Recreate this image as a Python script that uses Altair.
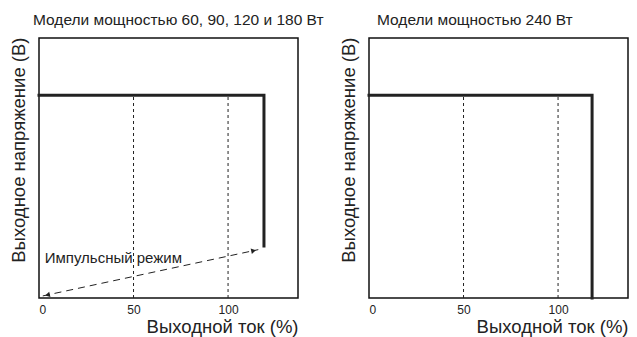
import altair as alt
import pandas as pd

FONT = "Liberation Sans"
INK = "#222222"

x_ticks = [0, 50, 100]
x_max = 137
y_max = 100

left_title = "Модели мощностью 60, 90, 120 и 180 Вт"
right_title = "Модели мощностью 240 Вт"
x_title = "Выходной ток (%)"
y_title = "Выходное напряжение (В)"

left_curve_x = [0, 119, 119]
left_curve_y = [78, 78, 20]
right_curve_x = [0, 118, 118]
right_curve_y = [78, 78, 0]

grid_x = [50, 100]
grid_top = 78

pulse_x = [2, 116]
pulse_y = [0.8, 18.6]
head_x = [4.5, 113.5]
head_y = [1.2, 18.2]
head_shape = ["triangle-left", "triangle-right"]
pulse_label = "Импульсный режим"
pulse_label_x = [3]
pulse_label_y = [15.4]

W = 259
H = 260


def xs():
    return alt.Scale(domain=[0, x_max], nice=False, zero=True)


def ys():
    return alt.Scale(domain=[0, y_max], nice=False)


def base_panel(cx, cy, title_text, dx):
    curve = pd.DataFrame({"x": cx, "y": cy, "o": list(range(len(cx)))})
    grid = pd.DataFrame({"x": grid_x, "y0": [0] * len(grid_x), "y1": [grid_top] * len(grid_x)})
    g = alt.Chart(grid).mark_rule(color=INK, strokeWidth=1, strokeDash=[3, 3]).encode(
        x=alt.X("x:Q", scale=xs(),
                axis=alt.Axis(values=x_ticks, title=x_title, ticks=False, domain=False,
                              grid=False, labelFontSize=12, labelPadding=6,
                              titleFontSize=18.5, titleAnchor="end", titlePadding=2,
                              titleFontWeight="normal", labelColor=INK, titleColor=INK,
                              labelFont=FONT, titleFont=FONT)),
        y=alt.Y("y0:Q", scale=ys(),
                axis=alt.Axis(labels=False, ticks=False, domain=False, grid=False,
                              title=y_title, titleFontSize=18.5, titleAngle=270,
                              titleAlign="right", titleBaseline="bottom",
                              titleX=-11, titleY=-1, titleFontWeight="normal",
                              titleColor=INK, titleFont=FONT)),
        y2="y1:Q",
    )
    c = alt.Chart(curve).mark_line(color=INK, strokeWidth=3, strokeCap="square",
                                   strokeJoin="miter").encode(
        x=alt.X("x:Q", scale=xs()), y=alt.Y("y:Q", scale=ys()), order="o:Q"
    )
    return [g, c], alt.TitleParams(title_text, anchor="start", frame="group", dx=dx,
                                   fontSize=15.5, fontWeight="normal", font=FONT,
                                   color=INK, offset=9)


layers_l, t_l = base_panel(left_curve_x, left_curve_y, left_title, -6)
pulse = pd.DataFrame({"x": pulse_x, "y": pulse_y})
arrow_line = alt.Chart(pulse).mark_line(color=INK, strokeWidth=1, strokeDash=[7, 5]).encode(
    x=alt.X("x:Q", scale=xs()), y=alt.Y("y:Q", scale=ys())
)
heads = pd.DataFrame({"x": head_x, "y": head_y, "s": head_shape})
arrow_heads = alt.Chart(heads).mark_point(filled=True, color=INK, size=30, angle=347, opacity=1).encode(
    x=alt.X("x:Q", scale=xs()), y=alt.Y("y:Q", scale=ys()),
    shape=alt.Shape("s:N", scale=None),
)
lab = pd.DataFrame({"x": pulse_label_x, "y": pulse_label_y, "t": [pulse_label]})
label = alt.Chart(lab).mark_text(align="left", baseline="middle", fontSize=15, font=FONT, color=INK).encode(
    x=alt.X("x:Q", scale=xs()), y=alt.Y("y:Q", scale=ys()), text="t:N"
)
left = alt.layer(*layers_l, arrow_line, arrow_heads, label).properties(width=W, height=H, title=t_l)

layers_r, t_r = base_panel(right_curve_x, right_curve_y, right_title, 8)
right = alt.layer(*layers_r).properties(width=W, height=H, title=t_r)

chart = alt.hconcat(left, right, spacing=13).properties(
    padding={"left": 0, "top": 3, "right": 0, "bottom": 0},
    background="white",
).configure_view(stroke="#111111", strokeWidth=1.5)

chart.save("out.html", embed_options={"renderer": "svg", "actions": False})
